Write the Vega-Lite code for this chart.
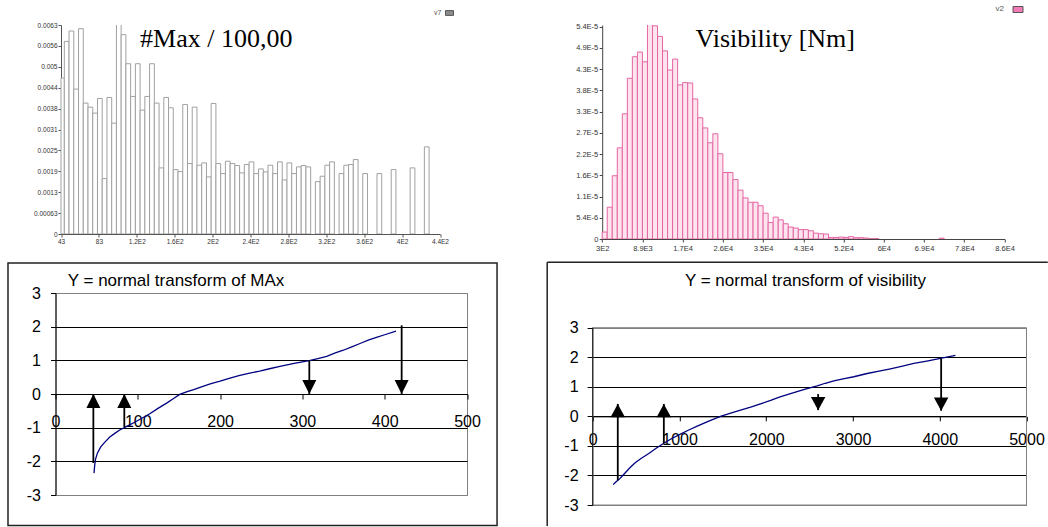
{
  "$schema": "https://vega.github.io/schema/vega-lite/v6.json",
  "background": "white",
  "padding": {"left": 6.5, "top": 4, "right": 0, "bottom": 0},
  "autosize": {"type": "pad"},
  "bounds": "flush",
  "columns": 2,
  "spacing": {"row": 54, "column": 125.3},
  "resolve": {"scale": {"fill": "independent", "shape": "independent"}, "legend": {"fill": "independent"}},
  "config": {"view": {"stroke": null}, "font": "Liberation Sans"},
  "concat": [
    {
      "width": 384.5,
      "height": 209,
      "layer": [
        {
          "data": {"values": [
            {"lo": 43, "hi": 46.5, "density": 0.00467},
            {"lo": 46.5, "hi": 51.5, "density": 0.00577},
            {"lo": 51.5, "hi": 56.5, "density": 0.00608},
            {"lo": 56.5, "hi": 61.5, "density": 0.00434},
            {"lo": 61.5, "hi": 66.5, "density": 0.00615},
            {"lo": 66.5, "hi": 71.5, "density": 0.00392},
            {"lo": 71.5, "hi": 76.5, "density": 0.0038},
            {"lo": 76.5, "hi": 81.5, "density": 0.00362},
            {"lo": 81.5, "hi": 86.5, "density": 0.00406},
            {"lo": 86.5, "hi": 91.5, "density": 0.00166},
            {"lo": 91.5, "hi": 96.5, "density": 0.00409},
            {"lo": 96.5, "hi": 101.5, "density": 0.00332},
            {"lo": 101.5, "hi": 106.5, "density": 0.0066},
            {"lo": 106.5, "hi": 111.5, "density": 0.00597},
            {"lo": 111.5, "hi": 116.5, "density": 0.0051},
            {"lo": 116.5, "hi": 121.5, "density": 0.00412},
            {"lo": 121.5, "hi": 126.5, "density": 0.0051},
            {"lo": 126.5, "hi": 131.5, "density": 0.00371},
            {"lo": 131.5, "hi": 136.5, "density": 0.00412},
            {"lo": 136.5, "hi": 141.5, "density": 0.0051},
            {"lo": 141.5, "hi": 146.5, "density": 0.00392},
            {"lo": 146.5, "hi": 151.5, "density": 0.00198},
            {"lo": 151.5, "hi": 156.5, "density": 0.00409},
            {"lo": 156.5, "hi": 161.5, "density": 0.00378},
            {"lo": 161.5, "hi": 166.5, "density": 0.00193},
            {"lo": 166.5, "hi": 171.5, "density": 0.00187},
            {"lo": 171.5, "hi": 176.5, "density": 0.00388},
            {"lo": 176.5, "hi": 181.5, "density": 0.00211},
            {"lo": 181.5, "hi": 186.5, "density": 0.0038},
            {"lo": 186.5, "hi": 191.5, "density": 0.00206},
            {"lo": 191.5, "hi": 196.5, "density": 0.00213},
            {"lo": 196.5, "hi": 201.5, "density": 0.00171},
            {"lo": 201.5, "hi": 206.5, "density": 0.00391},
            {"lo": 206.5, "hi": 211.5, "density": 0.00211},
            {"lo": 211.5, "hi": 216.5, "density": 0.00181},
            {"lo": 216.5, "hi": 221.5, "density": 0.00218},
            {"lo": 221.5, "hi": 226.5, "density": 0.00211},
            {"lo": 226.5, "hi": 231.5, "density": 0.00205},
            {"lo": 231.5, "hi": 236.5, "density": 0.00183},
            {"lo": 236.5, "hi": 241.5, "density": 0.00208},
            {"lo": 241.5, "hi": 246.5, "density": 0.00216},
            {"lo": 246.5, "hi": 251.5, "density": 0.00181},
            {"lo": 251.5, "hi": 256.5, "density": 0.00195},
            {"lo": 256.5, "hi": 261.5, "density": 0.00186},
            {"lo": 261.5, "hi": 266.5, "density": 0.00206},
            {"lo": 266.5, "hi": 271.5, "density": 0.00181},
            {"lo": 271.5, "hi": 276.5, "density": 0.00216},
            {"lo": 276.5, "hi": 281.5, "density": 0.00162},
            {"lo": 281.5, "hi": 286.5, "density": 0.00213},
            {"lo": 286.5, "hi": 291.5, "density": 0.00181},
            {"lo": 291.5, "hi": 296.5, "density": 0.00201},
            {"lo": 296.5, "hi": 301.5, "density": 0.00205},
            {"lo": 301.5, "hi": 306.5, "density": 0.00201},
            {"lo": 311.5, "hi": 316.5, "density": 0.00157},
            {"lo": 316.5, "hi": 321.5, "density": 0.00173},
            {"lo": 321.5, "hi": 326.5, "density": 0.00206},
            {"lo": 326.5, "hi": 331.5, "density": 0.00216},
            {"lo": 336.5, "hi": 341.5, "density": 0.00181},
            {"lo": 341.5, "hi": 346.5, "density": 0.00206},
            {"lo": 346.5, "hi": 351.5, "density": 0.00208},
            {"lo": 351.5, "hi": 356.5, "density": 0.00223},
            {"lo": 361.5, "hi": 366.5, "density": 0.00181},
            {"lo": 376.5, "hi": 381.5, "density": 0.00181},
            {"lo": 391.5, "hi": 396.5, "density": 0.00193},
            {"lo": 411.5, "hi": 416.5, "density": 0.00198},
            {"lo": 426.5, "hi": 431.5, "density": 0.00261}
          ]},
          "mark": {"type": "bar", "fill": "white", "stroke": "#a0a0a0", "strokeWidth": 1, "clip": true},
          "encoding": {
            "x": {"field": "lo", "type": "quantitative",
              "scale": {"domain": [37.195, 443], "nice": false, "zero": false},
              "axis": {"values": [43, 83, 123, 163, 203, 243, 283, 323, 363, 403, 443], "tickCount": 100,
                "labelExpr": "datum.value < 100 ? toString(datum.value) : replace(format(datum.value, '.1~e'), 'e+', 'E')",
                "title": null, "grid": false, "labelFont": "Liberation Sans", "labelFontSize": 6.5, "labelColor": "#333",
                "tickSize": 3, "tickColor": "#555", "domainColor": "#555", "labelPadding": 1,
                "labelFlush": false, "labelOverlap": false, "domainDash": [0, 5.5, 1000, 0]}},
            "x2": {"field": "hi"},
            "y": {"field": "density", "type": "quantitative",
              "scale": {"domain": [0, 0.00626], "nice": false},
              "axis": {"values": [0, 0.000626, 0.001252, 0.001878, 0.002504, 0.00313, 0.003756, 0.004382, 0.005008, 0.005634, 0.00626], "tickCount": 100,
                "format": ".2", "offset": -5.5, "title": null, "grid": false,
                "labelFont": "Liberation Sans", "labelFontSize": 6.5, "labelColor": "#333",
                "tickSize": 3, "tickColor": "#555", "domainColor": "#555", "labelPadding": 1, "labelOverlap": false}},
            "y2": {"datum": 0}
          }
        },
        {
          "data": {"values": []},
          "mark": {"type": "square", "stroke": "#555", "strokeWidth": 1, "opacity": 1},
          "encoding": {
            "fill": {"datum": "v7", "type": "nominal", "scale": {"range": ["#8c8c8c"]},
              "legend": {"orient": "none", "legendX": 378.5, "legendY": -17, "title": "v7", "titleOrient": "left",
                "titleFont": "Liberation Sans", "titleFontSize": 7, "titleFontWeight": "normal", "titleColor": "#555",
                "titlePadding": 2.5, "labelExpr": "''", "symbolType": "M-1,-0.6H1V0.6H-1Z", "symbolSize": 64,
                "symbolStrokeWidth": 1, "symbolStrokeColor": "#555", "symbolOpacity": 1, "padding": 0}}
          }
        },
        {
          "data": {"values": [{"label": "#Max / 100,00"}]},
          "mark": {"type": "text", "font": "Liberation Serif", "fontSize": 26, "align": "left", "baseline": "alphabetic", "color": "black"},
          "encoding": {
            "x": {"datum": 126.4, "type": "quantitative"},
            "y": {"datum": 0.00561, "type": "quantitative"},
            "text": {"field": "label"}
          }
        }
      ]
    },
    {
      "width": 411.7,
      "height": 214,
      "layer": [
        {
          "data": {"values": [
            {"lo": 300, "hi": 1373.75, "density": 1.78e-6},
            {"lo": 1373.75, "hi": 2447.5, "density": 8.13e-6},
            {"lo": 2447.5, "hi": 3521.25, "density": 1.617e-5},
            {"lo": 3521.25, "hi": 4595, "density": 2.33e-5},
            {"lo": 4595, "hi": 5668.75, "density": 3.2e-5},
            {"lo": 5668.75, "hi": 6742.5, "density": 4.11e-5},
            {"lo": 6742.5, "hi": 7816.25, "density": 4.66e-5},
            {"lo": 7816.25, "hi": 8890, "density": 4.78e-5},
            {"lo": 8890, "hi": 9963.75, "density": 4.53e-5},
            {"lo": 9963.75, "hi": 11037.5, "density": 5.5e-5},
            {"lo": 11037.5, "hi": 12111.25, "density": 5.45e-5},
            {"lo": 12111.25, "hi": 13185, "density": 5.18e-5},
            {"lo": 13185, "hi": 14258.75, "density": 4.81e-5},
            {"lo": 14258.75, "hi": 15332.5, "density": 4.32e-5},
            {"lo": 15332.5, "hi": 16406.25, "density": 4.6e-5},
            {"lo": 16406.25, "hi": 17480, "density": 3.94e-5},
            {"lo": 17480, "hi": 18553.75, "density": 4.0e-5},
            {"lo": 18553.75, "hi": 19627.5, "density": 3.99e-5},
            {"lo": 19627.5, "hi": 20701.25, "density": 3.58e-5},
            {"lo": 20701.25, "hi": 21775, "density": 3.1e-5},
            {"lo": 21775, "hi": 22848.75, "density": 2.84e-5},
            {"lo": 22848.75, "hi": 23922.5, "density": 2.46e-5},
            {"lo": 23922.5, "hi": 24996.25, "density": 2.69e-5},
            {"lo": 24996.25, "hi": 26070, "density": 2.18e-5},
            {"lo": 26070, "hi": 27143.75, "density": 1.7e-5},
            {"lo": 27143.75, "hi": 28217.5, "density": 1.7e-5},
            {"lo": 28217.5, "hi": 29291.25, "density": 1.52e-5},
            {"lo": 29291.25, "hi": 30365, "density": 1.25e-5},
            {"lo": 30365, "hi": 31438.75, "density": 1.05e-5},
            {"lo": 31438.75, "hi": 32512.5, "density": 9.4e-6},
            {"lo": 32512.5, "hi": 33586.25, "density": 9.4e-6},
            {"lo": 33586.25, "hi": 34660, "density": 8.5e-6},
            {"lo": 34660, "hi": 35733.75, "density": 6.6e-6},
            {"lo": 35733.75, "hi": 36807.5, "density": 4.2e-6},
            {"lo": 36807.5, "hi": 37881.25, "density": 5.6e-6},
            {"lo": 37881.25, "hi": 38955, "density": 4.9e-6},
            {"lo": 38955, "hi": 40028.75, "density": 3.9e-6},
            {"lo": 40028.75, "hi": 41102.5, "density": 3.05e-6},
            {"lo": 41102.5, "hi": 42176.25, "density": 2.8e-6},
            {"lo": 42176.25, "hi": 43250, "density": 2.4e-6},
            {"lo": 43250, "hi": 44323.75, "density": 2.4e-6},
            {"lo": 44323.75, "hi": 45397.5, "density": 2.1e-6},
            {"lo": 45397.5, "hi": 46471.25, "density": 1.5e-6},
            {"lo": 46471.25, "hi": 47545, "density": 1.35e-6},
            {"lo": 47545, "hi": 48618.75, "density": 1.27e-6},
            {"lo": 48618.75, "hi": 49692.5, "density": 4e-7},
            {"lo": 49692.5, "hi": 50766.25, "density": 4e-7},
            {"lo": 50766.25, "hi": 51840, "density": 5e-7},
            {"lo": 51840, "hi": 52913.75, "density": 4e-7},
            {"lo": 52913.75, "hi": 53987.5, "density": 6e-7},
            {"lo": 53987.5, "hi": 55061.25, "density": 3.4e-7},
            {"lo": 55061.25, "hi": 56135, "density": 3.4e-7},
            {"lo": 56135, "hi": 57208.75, "density": 2.5e-7},
            {"lo": 57208.75, "hi": 58282.5, "density": 1e-7},
            {"lo": 58282.5, "hi": 59356.25, "density": 1e-7},
            {"lo": 72241.25, "hi": 73315, "density": 2e-7}
          ]},
          "mark": {"type": "bar", "fill": "#fde4ef", "stroke": "#e466a3", "strokeWidth": 1, "clip": true},
          "encoding": {
            "x": {"field": "lo", "type": "quantitative",
              "scale": {"domain": [-1707, 86200], "nice": false, "zero": false},
              "axis": {"values": [300, 8890, 17480, 26070, 34660, 43250, 51840, 60430, 69020, 77610, 86200], "tickCount": 100,
                "labelExpr": "replace(format(datum.value, '.1~e'), 'e+', 'E')",
                "title": null, "grid": false, "labelFont": "Liberation Sans", "labelFontSize": 7.5, "labelColor": "#333",
                "tickSize": 3, "tickColor": "#444", "domainColor": "#444", "labelPadding": 2,
                "labelFlush": false, "labelOverlap": false, "domainDash": [0, 9.4, 1000, 0]}},
            "x2": {"field": "hi"},
            "y": {"field": "density", "type": "quantitative",
              "scale": {"domain": [0, 5.4715e-5], "nice": false},
              "axis": {"values": [0, 5.428e-6, 1.0856e-5, 1.6284e-5, 2.1712e-5, 2.714e-5, 3.2568e-5, 3.7996e-5, 4.3424e-5, 4.8852e-5, 5.428e-5], "tickCount": 100,
                "labelExpr": "datum.value == 0 ? '0' : replace(format(datum.value, '.1e'), 'e', 'E')",
                "offset": -9.4, "title": null, "grid": false,
                "labelFont": "Liberation Sans", "labelFontSize": 7.5, "labelColor": "#333",
                "tickSize": 3, "tickColor": "#444", "domainColor": "#444", "labelPadding": 1.4, "labelOverlap": false}},
            "y2": {"datum": 0}
          }
        },
        {
          "data": {"values": []},
          "mark": {"type": "square", "stroke": "#555", "strokeWidth": 1, "opacity": 1},
          "encoding": {
            "fill": {"datum": "v2", "type": "nominal", "scale": {"range": ["#f27bb7"]},
              "legend": {"orient": "none", "legendX": 402.7, "legendY": -21, "title": "v2", "titleOrient": "left",
                "titleFont": "Liberation Sans", "titleFontSize": 8, "titleFontWeight": "normal", "titleColor": "#555",
                "titlePadding": 8, "labelExpr": "''", "symbolType": "M-1,-0.6H1V0.6H-1Z", "symbolSize": 100,
                "symbolStrokeWidth": 1, "symbolStrokeColor": "#555", "symbolOpacity": 1, "padding": 0}}
          }
        },
        {
          "data": {"values": [{"label": "Visibility [Nm]"}]},
          "mark": {"type": "text", "font": "Liberation Serif", "fontSize": 26, "align": "left", "baseline": "alphabetic", "color": "black"},
          "encoding": {
            "x": {"datum": 20219, "type": "quantitative"},
            "y": {"datum": 4.917e-5, "type": "quantitative"},
            "text": {"field": "label"}
          }
        }
      ]
    },
    {
      "width": 411.5,
      "height": 202,
      "view": {"stroke": "#808080"},
      "layer": [
        {
          "data": {"values": [
            {"x": 46.8, "y": -2.35}, {"x": 47.5, "y": -2.15}, {"x": 48.5, "y": -1.95}, {"x": 51, "y": -1.75},
            {"x": 55, "y": -1.57}, {"x": 60, "y": -1.43}, {"x": 66, "y": -1.28}, {"x": 72, "y": -1.17},
            {"x": 78, "y": -1.07}, {"x": 86, "y": -0.97}, {"x": 94.5, "y": -0.86}, {"x": 105, "y": -0.72},
            {"x": 115, "y": -0.58}, {"x": 125, "y": -0.42}, {"x": 135, "y": -0.27}, {"x": 143, "y": -0.14},
            {"x": 151, "y": -0.01}, {"x": 160, "y": 0.07}, {"x": 168, "y": 0.13}, {"x": 175.6, "y": 0.2},
            {"x": 188, "y": 0.3}, {"x": 200, "y": 0.38}, {"x": 212, "y": 0.47}, {"x": 224, "y": 0.55},
            {"x": 236, "y": 0.62}, {"x": 248, "y": 0.68}, {"x": 260, "y": 0.75}, {"x": 272.7, "y": 0.82},
            {"x": 290, "y": 0.91}, {"x": 308.4, "y": 0.99}, {"x": 320, "y": 1.06}, {"x": 329.5, "y": 1.12},
            {"x": 340, "y": 1.22}, {"x": 349.7, "y": 1.3}, {"x": 360, "y": 1.4}, {"x": 370, "y": 1.5},
            {"x": 380, "y": 1.6}, {"x": 390, "y": 1.68}, {"x": 400, "y": 1.76}, {"x": 413.7, "y": 1.87}
          ]},
          "mark": {"type": "line", "color": "#000080", "strokeWidth": 1.3},
          "encoding": {
            "x": {"field": "x", "type": "quantitative",
              "scale": {"domain": [0, 500], "nice": false, "zero": false},
              "axis": {"values": [0, 100, 200, 300, 400, 500], "tickCount": 100, "offset": -101, "grid": false, "title": null,
                "labelExpr": "'' + datum.value",
                "domainColor": "black", "tickColor": "black", "tickSize": 5,
                "labelFont": "Liberation Sans", "labelFontSize": 16, "labelColor": "black", "labelPadding": 14.5,
                "labelFlush": false, "labelOverlap": false}},
            "y": {"field": "y", "type": "quantitative",
              "scale": {"domain": [-3, 3], "nice": false, "zero": false},
              "axis": {"values": [-3, -2, -1, 0, 1, 2, 3], "tickCount": 100, "grid": true,
                "gridColor": {"condition": {"test": "abs(datum.value) == 3", "value": "#808080"}, "value": "black"},
                "gridOpacity": 1, "domainColor": "black", "tickColor": "black", "tickSize": 5, "title": null,
                "labelExpr": "'' + datum.value",
                "labelFont": "Liberation Sans", "labelFontSize": 16, "labelColor": "black", "labelPadding": 10, "labelOverlap": false}}
          }
        },
        {
          "data": {"values": [
            {"x": 46, "from": -2.05, "to": 0, "dir": "up"},
            {"x": 83.6, "from": -0.98, "to": 0, "dir": "up"},
            {"x": 308.4, "from": 1.0, "to": 0, "dir": "down"},
            {"x": 420.6, "from": 2.04, "to": 0, "dir": "down"}
          ]},
          "layer": [
            {
              "mark": {"type": "rule", "color": "black", "strokeWidth": 1.8},
              "encoding": {
                "x": {"field": "x", "type": "quantitative"},
                "y": {"field": "from", "type": "quantitative"},
                "y2": {"field": "to"}
              }
            },
            {
              "mark": {"type": "point", "filled": true, "color": "black", "size": 196, "opacity": 1},
              "encoding": {
                "x": {"field": "x", "type": "quantitative"},
                "y": {"field": "to", "type": "quantitative"},
                "shape": {"field": "dir", "type": "nominal",
                  "scale": {"domain": ["up", "down"], "range": ["M0,0L1,2L-1,2Z", "M0,0L1,-2L-1,-2Z"]}, "legend": null}
              }
            }
          ]
        },
        {
          "data": {"values": [{"label": "Y = normal transform of MAx"}]},
          "mark": {"type": "text", "font": "Liberation Sans", "fontSize": 17, "align": "center", "baseline": "alphabetic", "color": "black"},
          "encoding": {
            "x": {"datum": 146.4, "type": "quantitative"},
            "y": {"datum": 3.217, "type": "quantitative"},
            "text": {"field": "label"}
          }
        },
        {
          "data": {"values": [{"frame": "chart area"}]},
          "mark": {"type": "rect", "filled": false, "stroke": "#222", "strokeWidth": 1.5},
          "encoding": {
            "x": {"datum": -57.72, "type": "quantitative"},
            "x2": {"datum": 536.5},
            "y": {"datum": 3.891, "type": "quantitative"},
            "y2": {"datum": -3.906}
          }
        }
      ]
    },
    {
      "width": 433.7,
      "height": 212,
      "layer": [
        {
          "data": {"values": [{"frame": "plot area"}]},
          "mark": {"type": "rect", "filled": false, "stroke": "#808080", "strokeWidth": 1},
          "encoding": {
            "x": {"datum": 0, "type": "quantitative"},
            "x2": {"datum": 5000},
            "y": {"datum": 3, "type": "quantitative"},
            "y2": {"datum": -3}
          }
        },
        {
          "data": {"values": [
            {"x": 235, "y": -2.31}, {"x": 265, "y": -2.22}, {"x": 300, "y": -2.14}, {"x": 340, "y": -2.02},
            {"x": 377, "y": -1.9}, {"x": 430, "y": -1.73}, {"x": 492, "y": -1.56}, {"x": 560, "y": -1.42},
            {"x": 646, "y": -1.26}, {"x": 730, "y": -1.08}, {"x": 819, "y": -0.91}, {"x": 910, "y": -0.75},
            {"x": 1011, "y": -0.6}, {"x": 1100, "y": -0.47}, {"x": 1204, "y": -0.33}, {"x": 1330, "y": -0.17},
            {"x": 1472, "y": 0.0}, {"x": 1590, "y": 0.11}, {"x": 1703, "y": 0.21}, {"x": 1820, "y": 0.31},
            {"x": 1933, "y": 0.42}, {"x": 2050, "y": 0.54}, {"x": 2150, "y": 0.65}, {"x": 2317, "y": 0.8},
            {"x": 2450, "y": 0.92}, {"x": 2587, "y": 1.03}, {"x": 2680, "y": 1.12}, {"x": 2779, "y": 1.2},
            {"x": 2900, "y": 1.28}, {"x": 3009, "y": 1.34}, {"x": 3163, "y": 1.45}, {"x": 3300, "y": 1.53},
            {"x": 3432, "y": 1.61}, {"x": 3570, "y": 1.7}, {"x": 3701, "y": 1.79}, {"x": 3850, "y": 1.87},
            {"x": 4008, "y": 1.96}, {"x": 4181, "y": 2.06}
          ]},
          "mark": {"type": "line", "color": "#000080", "strokeWidth": 1.3},
          "encoding": {
            "x": {"field": "x", "type": "quantitative",
              "scale": {"domain": [0, 5000], "nice": false, "zero": false},
              "axis": {"values": [0, 1000, 2000, 3000, 4000, 5000], "tickCount": 100, "offset": -88.65, "grid": false, "title": null,
                "labelExpr": "'' + datum.value",
                "domainColor": "black", "tickColor": "black", "tickSize": 4.5,
                "labelFont": "Liberation Sans", "labelFontSize": 16, "labelColor": "black", "labelPadding": 11,
                "labelFlush": false, "labelOverlap": false}},
            "y": {"field": "y", "type": "quantitative",
              "scale": {"domain": [-3, 4.174], "nice": false, "zero": false},
              "axis": {"values": [-3, -2, -1, 0, 1, 2, 3], "tickCount": 100, "grid": true, "domain": false,
                "gridColor": {"condition": {"test": "abs(datum.value) == 3", "value": "#808080"}, "value": "black"},
                "gridOpacity": 1, "tickColor": "black", "tickSize": 5.7, "title": null,
                "labelExpr": "'' + datum.value",
                "labelFont": "Liberation Sans", "labelFontSize": 16, "labelColor": "black", "labelPadding": 9, "labelOverlap": false}}
          }
        },
        {
          "data": {"values": [{"frame": "value axis line"}]},
          "mark": {"type": "rule", "color": "black", "strokeWidth": 1},
          "encoding": {
            "x": {"datum": 0, "type": "quantitative"},
            "y": {"datum": -3, "type": "quantitative"},
            "y2": {"datum": 3}
          }
        },
        {
          "data": {"values": [
            {"x": 288, "from": -2.16, "to": 0.42, "dir": "up"},
            {"x": 819, "from": -0.91, "to": 0.42, "dir": "up"},
            {"x": 2598, "from": 0.755, "to": 0.21, "dir": "down"},
            {"x": 4016, "from": 1.96, "to": 0.19, "dir": "down"}
          ]},
          "layer": [
            {
              "mark": {"type": "rule", "color": "black", "strokeWidth": 1.8},
              "encoding": {
                "x": {"field": "x", "type": "quantitative"},
                "y": {"field": "from", "type": "quantitative"},
                "y2": {"field": "to"}
              }
            },
            {
              "mark": {"type": "point", "filled": true, "color": "black", "size": 210, "opacity": 1},
              "encoding": {
                "x": {"field": "x", "type": "quantitative"},
                "y": {"field": "to", "type": "quantitative"},
                "shape": {"field": "dir", "type": "nominal",
                  "scale": {"domain": ["up", "down"], "range": ["M0,0L1,1.83L-1,1.83Z", "M0,0L1,-1.83L-1,-1.83Z"]}, "legend": null}
              }
            }
          ]
        },
        {
          "data": {"values": [{"label": "Y = normal transform of visibility"}]},
          "mark": {"type": "text", "font": "Liberation Sans", "fontSize": 17, "align": "center", "baseline": "alphabetic", "color": "black"},
          "encoding": {
            "x": {"datum": 2452, "type": "quantitative"},
            "y": {"datum": 4.421, "type": "quantitative"},
            "text": {"field": "label"}
          }
        },
        {
          "data": {"values": [{"frame": "chart area top"}]},
          "mark": {"type": "rule", "color": "#222", "strokeWidth": 1.5},
          "encoding": {
            "x": {"datum": -525.7, "type": "quantitative"},
            "x2": {"datum": 5245},
            "y": {"datum": 5.213, "type": "quantitative"}
          }
        },
        {
          "data": {"values": [{"frame": "chart area left"}]},
          "mark": {"type": "rule", "color": "#222", "strokeWidth": 1.5},
          "encoding": {
            "x": {"datum": -525.7, "type": "quantitative"},
            "y": {"datum": 5.213, "type": "quantitative"},
            "y2": {"datum": -3.71}
          }
        }
      ]
    }
  ]
}
